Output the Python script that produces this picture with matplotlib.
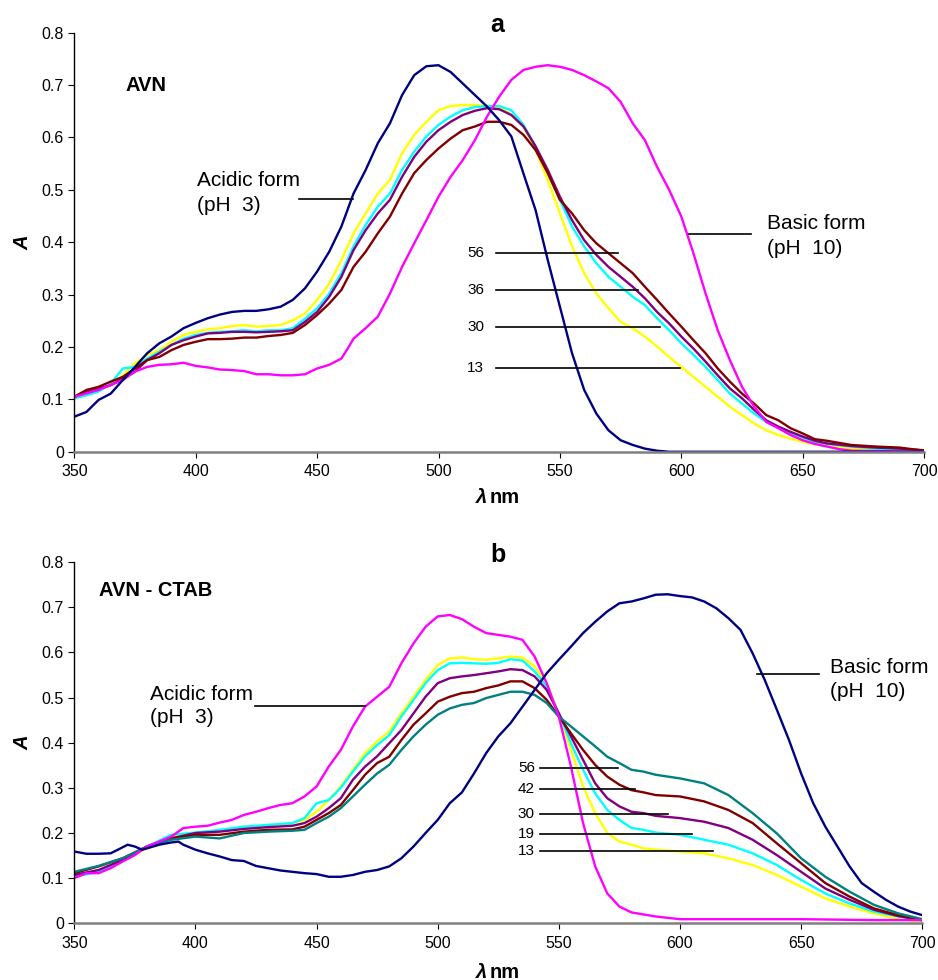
import matplotlib
matplotlib.use("Agg")
import matplotlib.pyplot as plt

plt.rcParams['font.family'] = ['Liberation Sans', 'DejaVu Sans']

# ---------------- panel a : AVN ----------------
wl_a = list(range(350, 665, 5)) + [670, 680, 690, 700]

a_13 = [.102, .108, .118, .127, .146, .169, .185, .194, .210, .223, .229, .234, .236, .240, .242, .239,
        .240, .242, .251, .264, .290, .321, .366, .417, .455, .493, .519, .570, .605, .630, .652, .660,
        .662, .662, .660, .658, .643, .621, .576, .519, .455, .392, .341, .302, .274, .248, .236, .220,
        .201, .181, .162, .143, .124, .105, .086, .070, .054, .041, .032, .025, .019, .014, .011,
        .006, .004, .003, .002]
a_30 = [.102, .108, .115, .130, .159, .162, .178, .191, .204, .216, .223, .227, .229, .230, .232, .230,
        .232, .232, .236, .254, .274, .302, .341, .392, .433, .468, .493, .538, .573, .602, .624, .640,
        .652, .658, .660, .660, .652, .624, .583, .532, .481, .430, .392, .360, .334, .315, .296, .280,
        .255, .232, .207, .185, .162, .137, .111, .092, .073, .057, .045, .035, .027, .019, .015,
        .010, .006, .004, .002]
a_36 = [.105, .115, .121, .127, .140, .153, .175, .188, .204, .213, .220, .226, .227, .229, .229, .228,
        .229, .230, .232, .248, .267, .296, .334, .385, .423, .455, .481, .525, .563, .592, .614, .630,
        .643, .651, .656, .654, .643, .621, .583, .538, .487, .442, .404, .376, .353, .334, .315, .293,
        .267, .245, .220, .197, .172, .146, .121, .102, .080, .060, .048, .038, .029, .021, .016,
        .011, .008, .006, .003]
a_56 = [.105, .118, .124, .134, .143, .159, .175, .181, .194, .204, .210, .215, .215, .216, .218, .218,
        .221, .223, .227, .242, .261, .283, .309, .353, .382, .417, .449, .493, .532, .557, .579, .598,
        .614, .621, .630, .630, .624, .605, .576, .532, .481, .455, .423, .398, .379, .360, .341, .315,
        .290, .264, .239, .213, .188, .159, .134, .111, .092, .070, .060, .045, .035, .024, .021,
        .013, .010, .008, .002]

wl_a_acid = list(range(350, 600, 5)) + [600, 650, 700]
a_acid = [.067, .076, .099, .111, .137, .162, .188, .207, .220, .236, .246, .255, .262, .267, .269, .269,
          .272, .277, .290, .312, .344, .382, .430, .493, .538, .589, .627, .681, .719, .736, .738, .725,
          .703, .681, .659, .633, .602, .531, .461, .366, .277, .188, .118, .073, .041, .022, .013,
          .006, .002, 0, 0, 0, 0]

wl_a_basic = [350, 360, 370, 375, 380, 385, 390, 395, 400, 405, 410, 415, 420, 425, 430, 435, 440, 445,
              450, 455, 460, 463, 465, 470, 475, 480, 485, 490, 495, 500, 505, 510, 515, 520, 525, 530,
              535, 540, 545, 550, 555, 560, 565, 570, 575, 580, 585, 590, 595, 600, 605, 610, 615, 620,
              625, 630, 635, 640, 645, 650, 655, 660, 665, 670, 700]
a_basic = [.105, .118, .137, .153, .162, .166, .167, .170, .164, .161, .157, .156, .154, .148, .148, .146,
           .146, .148, .159, .166, .178, .200, .216, .236, .258, .302, .353, .398, .442, .487, .525, .557,
           .595, .640, .678, .710, .729, .735, .738, .735, .729, .719, .707, .694, .668, .627, .595, .544,
           .500, .449, .379, .302, .232, .175, .124, .086, .057, .045, .032, .022, .015, .010, .005,
           .002, 0]

# ---------------- panel b : AVN - CTAB ----------------
wl_b = [350, 360, 370, 380, 390, 400, 410, 420, 430, 440, 445, 450, 455, 460, 465, 470, 475, 480, 485,
        490, 495, 500, 505, 510, 515, 520, 525, 530, 535, 540, 545, 550, 555, 560, 565, 570, 575, 580,
        585, 590, 600, 610, 620, 630, 640, 650, 660, 670, 680, 690, 700]

b_13 = [.107, .114, .140, .166, .192, .200, .205, .211, .214, .222, .229, .247, .273, .303, .340, .377,
        .403, .425, .465, .502, .539, .572, .587, .589, .585, .584, .587, .591, .589, .569, .532, .465,
        .384, .303, .244, .200, .181, .174, .166, .163, .159, .155, .144, .129, .107, .081, .055, .037,
        .022, .009, .004]
b_19 = [.103, .114, .140, .170, .196, .201, .207, .214, .218, .222, .233, .266, .273, .300, .336, .370,
        .395, .417, .458, .495, .532, .561, .576, .577, .576, .575, .577, .585, .582, .558, .525, .465,
        .399, .340, .288, .251, .229, .211, .207, .201, .196, .185, .174, .155, .129, .096, .066, .044,
        .026, .015, .006]
b_30 = [.107, .118, .140, .170, .188, .200, .203, .209, .213, .216, .222, .236, .255, .277, .318, .347,
        .370, .399, .428, .465, .502, .532, .543, .547, .550, .554, .558, .563, .561, .547, .517, .465,
        .414, .362, .310, .277, .259, .247, .244, .238, .233, .225, .211, .185, .151, .114, .077, .052,
        .030, .016, .007]
b_42 = [.111, .126, .144, .170, .188, .196, .196, .203, .207, .208, .214, .229, .244, .262, .295, .329,
        .355, .369, .406, .440, .465, .491, .502, .510, .513, .521, .527, .536, .536, .521, .495, .458,
        .421, .384, .351, .325, .307, .295, .290, .284, .281, .270, .251, .222, .177, .133, .089, .059,
        .033, .018, .007]
b_56 = [.114, .127, .144, .170, .185, .192, .188, .200, .203, .205, .207, .222, .236, .255, .281, .307,
        .332, .351, .384, .414, .440, .462, .476, .484, .488, .499, .506, .513, .513, .506, .488, .458,
        .436, .414, .392, .369, .355, .340, .336, .329, .321, .310, .284, .244, .199, .144, .103, .070,
        .041, .022, .009]

wl_b_acid = [350, 355, 360, 365, 370, 375, 380, 385, 390, 395, 400, 405, 410, 415, 420, 425, 430, 435,
             440, 445, 450, 455, 460, 465, 470, 475, 480, 485, 490, 495, 500, 505, 510, 515, 520, 525,
             530, 535, 540, 545, 550, 555, 560, 565, 570, 575, 580, 590, 600, 620, 650, 680, 700]
b_acid = [.100, .111, .111, .122, .137, .151, .170, .181, .192, .211, .214, .216, .223, .229, .240, .247,
          .255, .262, .266, .281, .303, .347, .384, .436, .480, .502, .524, .576, .620, .657, .680, .683,
          .674, .657, .643, .639, .635, .628, .591, .532, .458, .347, .222, .126, .066, .037, .024,
          .015, .009, .009, .009, .007, .007]

wl_b_basic = [350, 355, 360, 365, 368, 372, 375, 378, 380, 385, 390, 393, 395, 400, 405, 410, 415, 420,
              425, 430, 435, 440, 445, 450, 455, 460, 465, 470, 475, 480, 485, 490, 495, 500, 505, 510,
              515, 520, 525, 530, 535, 540, 545, 550, 555, 560, 565, 570, 575, 580, 585, 590, 595, 600,
              605, 610, 615, 620, 625, 630, 635, 640, 645, 650, 655, 660, 665, 670, 675, 680, 685, 690,
              695, 700]
b_basic = [.159, .154, .154, .155, .163, .174, .170, .163, .166, .174, .179, .181, .174, .163, .155, .148,
           .140, .138, .127, .122, .117, .114, .111, .109, .103, .103, .107, .114, .118, .126, .144, .170,
           .200, .229, .266, .290, .332, .377, .414, .443, .480, .517, .554, .584, .613, .643, .668, .691,
           .709, .713, .720, .728, .729, .725, .722, .713, .698, .676, .650, .598, .539, .473, .406, .332,
           .266, .214, .170, .126, .089, .070, .052, .037, .026, .018]

yticks = [0, 0.1, 0.2, 0.3, 0.4, 0.5, 0.6, 0.7, 0.8]
ytick_labels = ['0', '0.1', '0.2', '0.3', '0.4', '0.5', '0.6', '0.7', '0.8']
xticks = [350, 400, 450, 500, 550, 600, 650, 700]

NAVY, MAG, YEL, CYA = '#000080', '#ff00ff', '#ffff00', '#00ffff'
PUR, DRED, TEAL = '#800080', '#800000', '#008080'
LW = 1.7

fig = plt.figure(figsize=(9.38, 9.8), dpi=100)
ax1 = fig.add_axes([0.0792, 0.539, 0.906, 0.4276])
ax2 = fig.add_axes([0.0792, 0.0579, 0.904, 0.3684])


def style(ax):
    ax.set_xlim(350, 700)
    ax.set_ylim(0, 0.8)
    ax.set_xticks(xticks)
    ax.set_yticks(yticks)
    ax.set_yticklabels(ytick_labels)
    ax.spines['top'].set_visible(False)
    ax.spines['right'].set_visible(False)
    ax.spines['bottom'].set_color('#808080')
    ax.spines['bottom'].set_linewidth(1.8)
    ax.spines['left'].set_linewidth(1.0)
    ax.tick_params(direction='out', length=4, labelsize=11.5)
    ax.tick_params(axis='x', pad=5)


# panel a
ax1.plot(wl_a, a_13, color=YEL, lw=LW)
ax1.plot(wl_a, a_30, color=CYA, lw=LW)
ax1.plot(wl_a, a_36, color=PUR, lw=LW)
ax1.plot(wl_a, a_56, color=DRED, lw=LW)
ax1.plot(wl_a_basic, a_basic, color=MAG, lw=LW)
ax1.plot(wl_a_acid, a_acid, color=NAVY, lw=LW)
style(ax1)

ax1.text(370.9, 0.70, 'AVN', fontsize=14.5, fontweight='bold', va='center')
ax1.text(400.6, 0.518, 'Acidic form', fontsize=15, va='center')
ax1.text(400.6, 0.471, '(pH  3)', fontsize=15, va='center')
ax1.plot([442.6, 464.8], [0.4825, 0.4825], color='black', lw=1.2)
ax1.text(635.3, 0.436, 'Basic form', fontsize=15, va='center')
ax1.text(635.3, 0.388, '(pH  10)', fontsize=15, va='center')
ax1.plot([603, 628.7], [0.415, 0.415], color='black', lw=1.2)
for lab, yy, xe in [('56', 0.3788, 574.1), ('36', 0.3085, 582.1),
                    ('30', 0.2375, 591.4), ('13', 0.1592, 599.6)]:
    ax1.text(518.8, yy, lab, fontsize=11, ha='right', va='center')
    ax1.plot([523.6, xe], [yy, yy], color='black', lw=1.2)

# panel b
ax2.plot(wl_b, b_13, color=YEL, lw=LW)
ax2.plot(wl_b, b_19, color=CYA, lw=LW)
ax2.plot(wl_b, b_30, color=PUR, lw=LW)
ax2.plot(wl_b, b_42, color=DRED, lw=LW)
ax2.plot(wl_b, b_56, color=TEAL, lw=LW)
ax2.plot(wl_b_acid, b_acid, color=MAG, lw=LW)
ax2.plot(wl_b_basic, b_basic, color=NAVY, lw=LW)
style(ax2)

ax2.text(360.2, 0.7375, 'AVN - CTAB', fontsize=14.5, fontweight='bold', va='center')
ax2.text(381.2, 0.5075, 'Acidic form', fontsize=15, va='center')
ax2.text(381.2, 0.4557, '(pH  3)', fontsize=15, va='center')
ax2.plot([424.6, 470], [0.4816, 0.4816], color='black', lw=1.2)
ax2.text(661.9, 0.5665, 'Basic form', fontsize=15, va='center')
ax2.text(661.9, 0.513, '(pH  10)', fontsize=15, va='center')
ax2.plot([631.6, 657.5], [0.5518, 0.5518], color='black', lw=1.2)
for lab, yy, xe in [('56', 0.3435, 574.5), ('42', 0.297, 581.4), ('30', 0.2416, 594.9),
                    ('19', 0.1972, 604.9), ('13', 0.1609, 613.7)]:
    ax2.text(540.1, yy, lab, fontsize=11, ha='right', va='center')
    ax2.plot([542.2, xe], [yy, yy], color='black', lw=1.2)

# titles and axis labels (placed in figure pixels)
W, H = 938.0, 980.0
fig.text(497 / W, 1 - 25 / H, 'a', fontsize=18, fontweight='bold', ha='center', va='center')
fig.text(498 / W, 1 - 555 / H, 'b', fontsize=18, fontweight='bold', ha='center', va='center')
for yc in (497, 972):
    fig.text(476 / W, 1 - yc / H, 'λ', fontsize=14.5, fontweight='bold', fontstyle='italic',
             ha='left', va='center')
    fig.text(490 / W, 1 - yc / H, 'nm', fontsize=14.5, fontweight='bold', ha='left', va='center')
for yc in (243, 743):
    fig.text(22.7 / W, 1 - yc / H, 'A', fontsize=14.5, fontweight='bold', fontstyle='italic',
             rotation=90, ha='center', va='center')

fig.savefig('out.png', dpi=100)
